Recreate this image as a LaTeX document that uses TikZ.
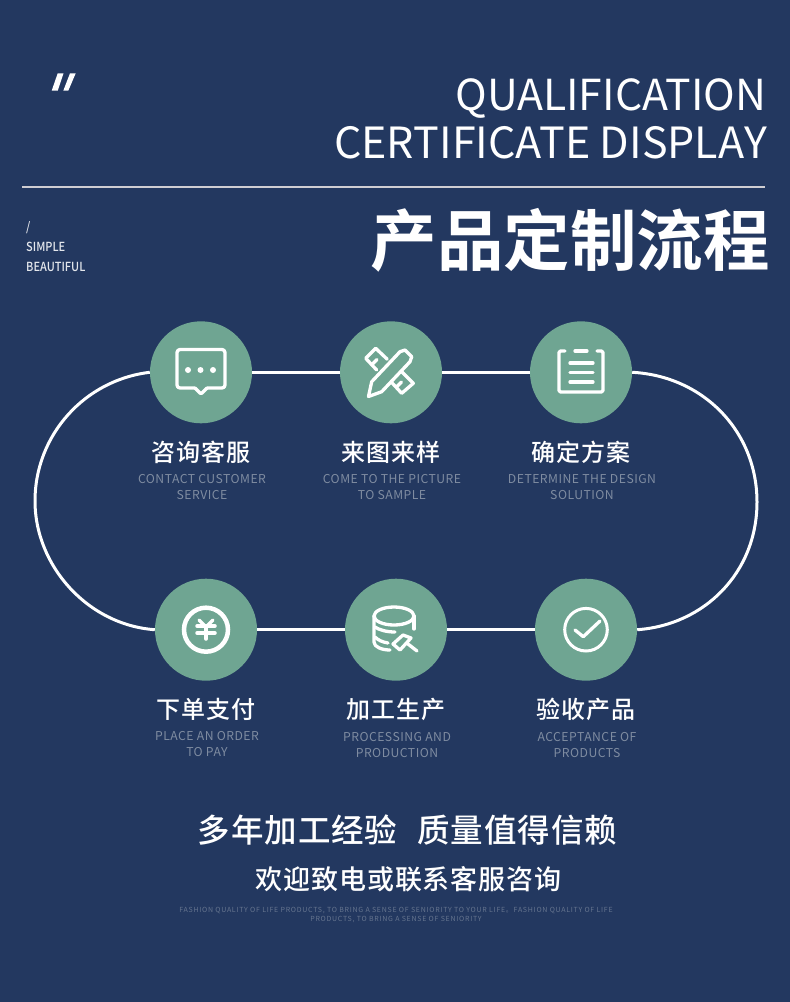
\documentclass[tikz,border=0pt]{standalone}
\usepackage{fontspec}
\usetikzlibrary{positioning}
\setmainfont{Noto Sans CJK SC}
\newfontfamily\cjkbold{Noto Sans CJK SC Bold}
\newfontfamily\cjkmed[LetterSpace=3]{Noto Sans CJK SC Medium}
\newfontfamily\cjkside[FakeStretch=0.88]{Noto Sans CJK SC Medium}
\newfontfamily\latsub[LetterSpace=4]{Noto Sans CJK SC}
\newfontfamily\latfoot[LetterSpace=10.5]{Noto Sans CJK SC}
\definecolor{bgnavy}{HTML}{233860}
\definecolor{stepgreen}{HTML}{6FA592}
\definecolor{subgrey}{HTML}{7F8CA1}
\definecolor{footgrey}{HTML}{66758F}
\definecolor{rulegrey}{HTML}{CFCDD2}
\tikzset{
  stepdot/.style={circle,fill=stepgreen,minimum size=102pt,inner sep=0pt},
  steptitle/.style={text=white,font=\cjkmed\fontsize{24}{24}\selectfont,inner sep=0pt},
  stepsub/.style={text=subgrey,align=center,font=\latsub\fontsize{12.2}{16}\selectfont,inner sep=0pt},
  loopline/.style={draw=white,line width=3pt},
  icon/.style={draw=white,line width=3.3pt,line cap=round,line join=round},
  sidetext/.style={text=white!88!bgnavy,anchor=base west,inner sep=0pt,font=\cjkside\fontsize{12.5}{12.5}\selectfont},
}
\begin{document}
\begin{tikzpicture}[x=1pt,y=-1pt]
\fill[bgnavy] (0,0) rectangle (790,1002);
\useasboundingbox (0,0) rectangle (790,1002);
% header
\fill[white] (57.7,73.3)--(63.5,73.3)--(57.7,90.7)--(51.7,90.7)--cycle;
\fill[white] (70,73.3)--(75.7,73.3)--(68.3,90.7)--(63.3,90.7)--cycle;
\node[text=white,anchor=base east,inner sep=0pt,font=\fontsize{42.7}{43}\selectfont] (headone) at (766.5,110) {QUALIFICATION};
\node[text=white,anchor=base east,inner sep=0pt,font=\fontsize{43}{43}\selectfont] (headtwo) at (767,158) {CERTIFICATE DISPLAY};
\draw[rulegrey,line width=2pt] (22,187)--(765,187);
\node[sidetext] (slash) at (26,231) {/};
\node[sidetext] (simple) at (26,251) {SIMPLE};
\node[sidetext] (beautiful) at (26,271) {BEAUTIFUL};
\node[text=white,anchor=east,inner sep=0pt,font=\cjkbold\fontsize{66.5}{66.5}\selectfont] (maintitle) at (770,240) {产品定制流程};
% steps
\foreach \n/\x/\y in {consult/201/372.3,sample/391/372.3,scheme/581/372.3,pay/206/629.7,make/396/629.7,accept/586/629.7}{
  \node[stepdot] (\n) at (\x,\y) {};
}
\draw[loopline] (consult)--(sample);
\draw[loopline] (sample)--(scheme);
\draw[loopline] (pay)--(make);
\draw[loopline] (make)--(accept);
\draw[loopline] (consult.west) .. controls (84.7,380) and (35,435) .. (35,501) .. controls (35,566) and (88,625) .. (pay.west);
\draw[loopline] (scheme.east) .. controls (703,376) and (757,431) .. (757,502) .. controls (757,573) and (704,625) .. (accept.east);
% labels
\foreach \n/\t/\s in {consult/咨询客服/{CONTACT CUSTOMER\\SERVICE},sample/来图来样/{COME TO THE PICTURE\\TO SAMPLE},scheme/确定方案/{DETERMINE THE DESIGN\\SOLUTION},pay/下单支付/{PLACE AN ORDER\\TO PAY},make/加工生产/{PROCESSING AND\\PRODUCTION},accept/验收产品/{ACCEPTANCE OF\\PRODUCTS}}{
  \node[steptitle,below=17pt of \n] (\n-title) {\t};
  \node[stepsub,below=11pt of \n-title,xshift=1pt] (\n-sub) {\s};
}
% icons
\draw[icon,rounded corners=3pt] (195,388)--(177,388)--(177,349.5)--(225,349.5)--(225,388)--(207,388);
\draw[icon,rounded corners=1pt] (195,388)--(201,394)--(207,388);
\foreach \x in {188,200.5,213}{\fill[white] (\x,370) circle (3);}
\draw[icon] (368.5,396.5)--(371.7,381.7)--(400,351.7)--(405,350)--(411.7,356.7)--(410,361.7)--(381.7,391.7)--cycle;
\draw[icon] (376.7,370)--(365.7,358.3)--(375.7,348.3)--(387.3,359.3);
\draw[icon] (372,364.5)--(377,359.5);
\draw[icon] (401.7,371.7)--(413.3,383.3)--(401.7,393.3)--(391,381.7);
\draw[icon] (396.5,387)--(401.5,382);
\draw[icon,rounded corners=1.5pt] (565,351)--(559,351)--(559,392)--(603,392)--(603,351)--(597,351);
\draw[icon] (575,351)--(587,351);
\foreach \y in {363,372.5,382}{\draw[icon] (570,\y)--(593,\y);}
\draw[white,line width=4.5pt] (pay) circle (22);
\draw[icon,line width=3.5pt] (199,620)--(206,627)--(213,620);
\draw[icon,line width=3.5pt] (197,626)--(215,626);
\draw[icon,line width=3.5pt] (197,633)--(215,633);
\draw[icon,line width=3.5pt] (206,627)--(206,639);
\draw[icon] (394,616) ellipse (20 and 9);
\draw[icon] (374,616)--(374,642) .. controls (374,647) and (382,650) .. (390,650);
\draw[icon] (414,616)--(414,629);
\draw[icon] (375,627) .. controls (379,630) and (387,632) .. (395,632);
\draw[icon] (375,637) .. controls (378,640) and (382,642) .. (388,643);
\draw[icon] (403,635)--(393,644)--(400,650)--(411,638)--cycle;
\draw[icon] (408,644)--(417,651);
\draw[white,line width=3pt] (accept) circle (21.3);
\draw[icon] (575,630)--(583.3,636.7)--(600,621);
% footer
\node[text=white,inner sep=0pt,font=\cjkmed\fontsize{32.5}{32.5}\selectfont] (sloganone) at (407.5,830) {多年加工经验\hspace{20pt}质量值得信赖};
\node[text=white,inner sep=0pt,font=\cjkmed\fontsize{27}{27}\selectfont] (slogantwo) at (408.5,879) {欢迎致电或联系客服咨询};
\node[text=footgrey,align=center,inner sep=0pt,font=\latfoot\fontsize{7}{9}\selectfont] (footnote) at (396,915.5) {FASHION QUALITY OF LIFE PRODUCTS, TO BRING A SENSE OF SENIORITY TO YOUR LIFE。FASHION QUALITY OF LIFE\\PRODUCTS, TO BRING A SENSE OF SENIORITY};
\end{tikzpicture}
\end{document}
